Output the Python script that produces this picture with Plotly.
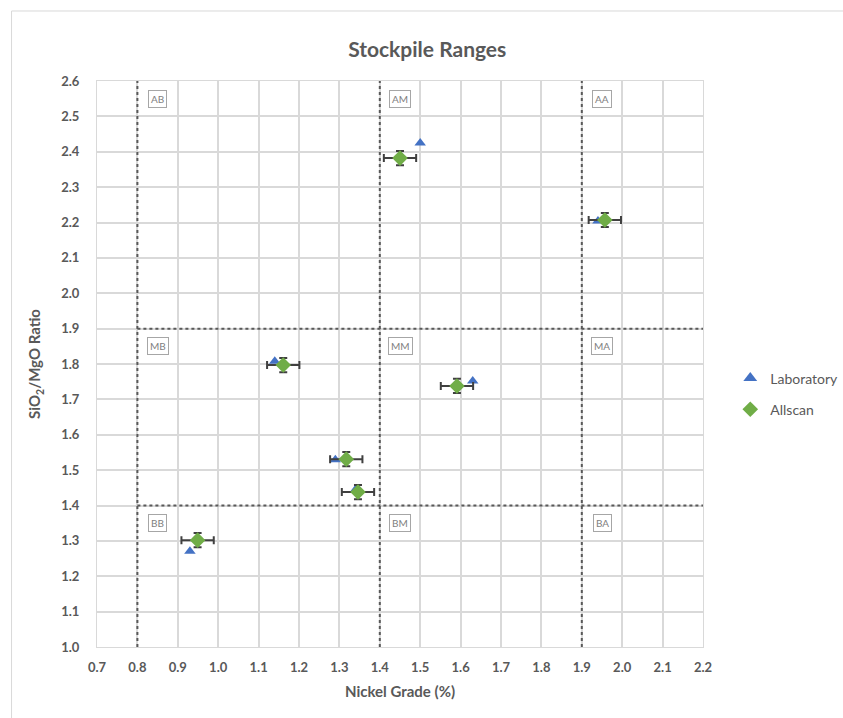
import plotly.graph_objects as go

# Laboratory assays
lab_ni = [1.50, 1.94, 1.14, 1.63, 1.29, 1.34, 0.93]
lab_ratio = [2.425, 2.204, 1.808, 1.752, 1.529, 1.445, 1.271]

# Allscan analyser readings
scan_ni = [1.45, 1.957, 1.161, 1.591, 1.317, 1.346, 0.949]
scan_ratio = [2.382, 2.207, 1.797, 1.738, 1.531, 1.438, 1.302]
scan_ni_err = [0.04] * 7
scan_ratio_err = [0.02] * 7

# Stockpile class boundaries
ni_bounds = [0.8, 1.4, 1.9]
ratio_bounds = [1.4, 1.9]

# Class labels and their positions
zone_names = ["AB", "AM", "AA", "MB", "MM", "MA", "BB", "BM", "BA"]
zone_ni = [0.85, 1.45, 1.95] * 3
zone_ratio = [2.55] * 3 + [1.85] * 3 + [1.35] * 3

x_ticks = [round(0.7 + 0.1 * i, 1) for i in range(16)]
y_ticks = [round(1.0 + 0.1 * i, 1) for i in range(17)]

FONT = "Lato"
GREY = "#595959"

fig = go.Figure()

fig.add_trace(go.Scatter(
    x=lab_ni, y=lab_ratio, mode="markers", name="Laboratory", legendgroup="lab",
    marker=dict(symbol="triangle-up", size=10, color="#4472C4"),
))
fig.add_trace(go.Scatter(
    x=scan_ni, y=scan_ratio, mode="markers", name="Allscan", legendgroup="scan",
    marker=dict(symbol="diamond", size=12, color="#70AD47"),
    error_x=dict(type="data", array=scan_ni_err, color="#404040", thickness=2, width=4),
    error_y=dict(type="data", array=scan_ratio_err, color="#404040", thickness=2, width=4),
))

for b in ni_bounds:
    fig.add_shape(type="line", x0=b, x1=b, y0=1.0, y1=2.6, xref="x", yref="y",
                  line=dict(color=GREY, width=2, dash="dot"))
for b in ratio_bounds:
    fig.add_shape(type="line", x0=0.8, x1=2.2, y0=b, y1=b, xref="x", yref="y",
                  line=dict(color=GREY, width=2, dash="dot"))

for name, xv, yv in zip(zone_names, zone_ni, zone_ratio):
    fig.add_annotation(x=xv, y=yv, text=name, showarrow=False,
                       font=dict(family=FONT, size=10, color="#808080"),
                       bordercolor="#A6A6A6", borderwidth=1, borderpad=2,
                       bgcolor="white")

# chart frame
fig.add_shape(type="rect", xref="paper", yref="paper",
              x0=-0.141, x1=1.25, y0=-0.15, y1=1.1237,
              line=dict(color="#D9D9D9", width=1), layer="below")

fig.update_layout(
    width=843, height=718,
    margin=dict(l=96.5, r=140, t=81, b=71, autoexpand=False),
    paper_bgcolor="white", plot_bgcolor="white",
    title=dict(text="<b>Stockpile Ranges</b>", x=(427 - 96.5) / 606.5, xref="paper",
               xanchor="center", y=1 - 50 / 718, yanchor="middle",
               font=dict(family=FONT, size=21, color=GREY)),
    font=dict(family=FONT, color=GREY),
    legend=dict(x=1.045, y=0.447, xanchor="left", yanchor="middle",
                font=dict(family=FONT, size=14, color=GREY),
                tracegroupgap=10, itemsizing="constant", itemwidth=30,
                bgcolor="rgba(0,0,0,0)"),
    xaxis=dict(range=[0.7, 2.2], tickvals=x_ticks, ticktext=[f"{v:.1f}" for v in x_ticks],
               showgrid=True, gridcolor="#D9D9D9", gridwidth=1.5, zeroline=False,
               showline=True, linecolor="#D9D9D9", mirror=True,
               ticks="", ticklabelstandoff=8,
               tickfont=dict(family=FONT, size=13, color=GREY, weight="bold"),
               title=dict(text="<b>Nickel Grade (%)</b>", standoff=12,
                          font=dict(family=FONT, size=15, color=GREY))),
    yaxis=dict(range=[1.0, 2.6], tickvals=y_ticks, ticktext=[f"{v:.1f}" for v in y_ticks],
               showgrid=True, gridcolor="#D9D9D9", gridwidth=1.5, zeroline=False,
               showline=True, linecolor="#D9D9D9", mirror=True,
               ticks="", ticklabelstandoff=14,
               tickfont=dict(family=FONT, size=13, color=GREY, weight="bold"),
               title=dict(text="<b>SiO<sub>2</sub>/MgO Ratio</b>", standoff=16,
                          font=dict(family=FONT, size=15, color=GREY))),
)

fig.write_html("out.html")
